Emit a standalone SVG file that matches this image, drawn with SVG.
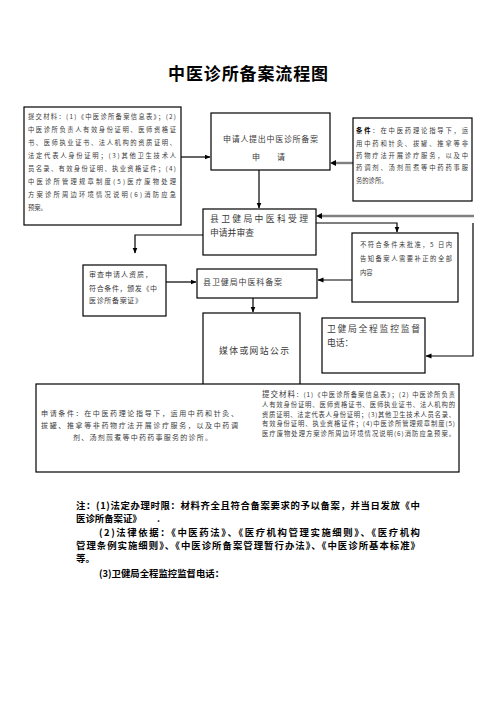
<svg xmlns="http://www.w3.org/2000/svg" width="496" height="702" viewBox="0 0 496 702">
<style>
.box{fill:#fff;stroke:#000;stroke-width:1.2}
.t{font-family:"Noto Sans CJK SC","Noto Sans CJK JP",sans-serif;fill:#3a3a3a}
.s6{font-size:6.3px}
.s7{font-size:7px}
.s8{font-size:8px}
.s9{font-size:8.8px}
.note{font-family:"Noto Sans CJK SC",sans-serif;font-size:9.4px;font-weight:bold;fill:#000}
.ln{fill:none;stroke:#000;stroke-width:1.2}
.gl{fill:none;stroke:#808080;stroke-width:2.4}
</style>
<defs>
<marker id="ah" markerWidth="6" markerHeight="6" refX="5.5" refY="3" orient="auto" markerUnits="userSpaceOnUse"><path d="M0,0.5 L6,3 L0,5.5 Z" fill="#000"/></marker>
</defs>
<rect width="496" height="702" fill="#fff"/>
<text x="168" y="80" font-family="Noto Sans CJK SC,sans-serif" font-size="17" font-weight="bold" textLength="160" lengthAdjust="spacing">中医诊所备案流程图</text>

<g id="connectors">
<path class="ln" d="M181,157 H210" marker-end="url(#ah)"/>
<path class="gl" d="M353,163 H333"/>
<path d="M330,163 L336,160 L336,166 Z" fill="#000"/>
<path class="ln" d="M259,170 V208" marker-end="url(#ah)"/>
<path class="gl" d="M474,216 H320"/>
<path d="M316,216 L322,213 L322,219 Z" fill="#000"/>
<path class="ln" d="M316,223 H397 V232" marker-end="url(#ah)"/>
<path class="ln" d="M473,223 V356 H426" marker-end="url(#ah)"/>
<path class="ln" d="M203,235 H135 V253" marker-end="url(#ah)"/>
<path class="ln" d="M166,282 H196" marker-end="url(#ah)"/>
<path class="ln" d="M352,280 H318" marker-end="url(#ah)"/>
<path class="ln" d="M253,298 V312" marker-end="url(#ah)"/>
</g>

<g id="materials">
<rect class="box" x="24" y="107" width="157" height="118"/>
<text class="t s6" x="28" y="119" textLength="148" lengthAdjust="spacing">提交材料：(1)《中医诊所备案信息表》；(2)</text>
<text class="t s6" x="28" y="132" textLength="148" lengthAdjust="spacing">中医诊所负责人有效身份证明、医师资格证</text>
<text class="t s6" x="28" y="145" textLength="148" lengthAdjust="spacing">书、医师执业证书、法人机构的资质证明、</text>
<text class="t s6" x="28" y="158" textLength="148" lengthAdjust="spacing">法定代表人身份证明；(3)其他卫生技术人</text>
<text class="t s6" x="28" y="171" textLength="148" lengthAdjust="spacing">员名录、有效身份证明、执业资格证件；(4)</text>
<text class="t s6" x="28" y="184" textLength="148" lengthAdjust="spacing">中医诊所管理规章制度(5)医疗废物处理</text>
<text class="t s6" x="28" y="197" textLength="148" lengthAdjust="spacing">方案诊所周边环境情况说明(6)消防应急</text>
<text class="t s6" x="28" y="210">预案。</text>
</g>

<g id="apply">
<rect class="box" x="211" y="113" width="119" height="57"/>
<text class="t s8" x="223" y="142" textLength="95" lengthAdjust="spacing">申请人提出中医诊所备案</text>
<text class="t s8" x="252 277" y="160">申请</text>
</g>

<g id="conditions">
<rect class="box" x="353" y="118" width="119" height="83"/>
<text class="t s6" x="356" y="133" textLength="112" lengthAdjust="spacing"><tspan font-weight="bold" fill="#000">条件</tspan>：在中医药理论指导下，运</text>
<text class="t s6" x="356" y="146" textLength="112" lengthAdjust="spacing">用中药和针灸、拔罐、推拿等非</text>
<text class="t s6" x="356" y="158" textLength="112" lengthAdjust="spacing">药物疗法开展诊疗服务，以及中</text>
<text class="t s6" x="356" y="170" textLength="112" lengthAdjust="spacing">药调剂、汤剂煎煮等中药药事服</text>
<text class="t s6" x="356" y="183">务的诊所。</text>
</g>

<g id="accept">
<rect class="box" x="203" y="209" width="113" height="46"/>
<text class="t s9" x="210" y="222" textLength="98" lengthAdjust="spacing">县卫健局中医科受理</text>
<text class="t s9" x="210" y="236" textLength="44" lengthAdjust="spacing">申请并审查</text>
</g>

<g id="reject">
<rect class="box" x="352" y="233" width="106" height="69"/>
<text class="t s6" x="360" y="247" textLength="92" lengthAdjust="spacing">不符合条件未批准，5 日内</text>
<text class="t s6" x="360" y="261" textLength="92" lengthAdjust="spacing">告知备案人需要补正的全部</text>
<text class="t s6" x="360" y="275">内容</text>
</g>

<g id="review">
<rect class="box" x="83" y="265" width="83" height="51"/>
<text class="t s7" x="89" y="277" textLength="63" lengthAdjust="spacing">审查申请人资质，</text>
<text class="t s7" x="89" y="291" textLength="68" lengthAdjust="spacing">符合条件，颁发《中</text>
<text class="t s7" x="89" y="303" textLength="53" lengthAdjust="spacing">医诊所备案证》</text>
</g>

<g id="record">
<rect class="box" x="197" y="269" width="120" height="29"/>
<text class="t s8" x="203" y="285" textLength="79" lengthAdjust="spacing">县卫健局中医科备案</text>
</g>

<g id="publish">
<rect class="box" x="203" y="313" width="97" height="73"/>
<text class="t s9" x="219" y="354" textLength="70" lengthAdjust="spacing">媒体或网站公示</text>
</g>

<g id="supervise">
<rect class="box" x="322" y="318" width="103" height="55"/>
<text class="t s9" x="327" y="332" textLength="93" lengthAdjust="spacing">卫健局全程监控监督</text>
<text class="t s9" x="327" y="346">电话：</text>
</g>

<g id="summary">
<rect class="box" x="36" y="384" width="423" height="88"/>
<text class="t s7" x="41" y="416" textLength="197" lengthAdjust="spacing">申请条件：在中医药理论指导下，运用中药和针灸、</text>
<text class="t s7" x="41" y="428" textLength="197" lengthAdjust="spacing">拔罐、推拿等非药物疗法开展诊疗服务，以及中药调</text>
<text class="t s7" x="73" y="440" textLength="139" lengthAdjust="spacing">剂、汤剂煎煮等中药药事服务的诊所。</text>
<text class="t s6" x="262" y="397" textLength="193" lengthAdjust="spacing"><tspan font-size="7.5">提交材料</tspan>：(1)《中医诊所备案信息表》；(2) 中医诊所负责</text>
<text class="t s6" x="262" y="407" textLength="193" lengthAdjust="spacing">人有效身份证明、医师资格证书、医师执业证书、法人机构的</text>
<text class="t s6" x="262" y="416.5" textLength="193" lengthAdjust="spacing">资质证明、法定代表人身份证明；(3)其他卫生技术人员名录、</text>
<text class="t s6" x="262" y="426" textLength="193" lengthAdjust="spacing">有效身份证明、执业资格证件；(4)中医诊所管理规章制度(5)</text>
<text class="t s6" x="262" y="435.5" textLength="193" lengthAdjust="spacing">医疗废物处理方案诊所周边环境情况说明(6)消防应急预案。</text>
</g>

<g id="notes">
<text class="note" x="76" y="509" textLength="344" lengthAdjust="spacing">注：(1)法定办理时限：材料齐全且符合备案要求的予以备案，并当日发放《中</text>
<text class="note" x="76" y="522">医诊所备案证》 <tspan x="157">.</tspan></text>
<text class="note" x="99" y="536" textLength="321" lengthAdjust="spacing">(2)法律依据：《中医药法》、《医疗机构管理实施细则》、《医疗机构</text>
<text class="note" x="76" y="549" textLength="344" lengthAdjust="spacing">管理条例实施细则》、《中医诊所备案管理暂行办法》、《中医诊所基本标准》</text>
<text class="note" x="76" y="562">等。</text>
<text class="note" x="99" y="577">(3)卫健局全程监控监督电话：</text>
</g>
</svg>
